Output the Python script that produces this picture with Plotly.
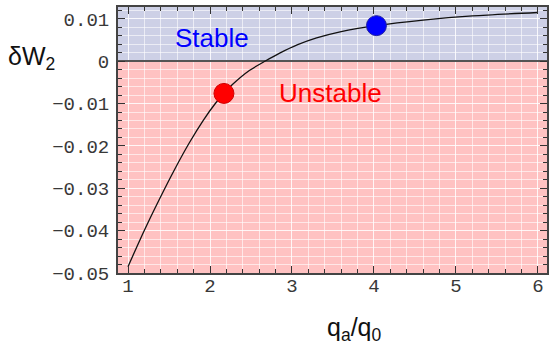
import plotly.graph_objects as go

# curve data
q_ratio = [1.0, 1.2, 1.38, 1.57, 1.75, 1.92, 2.06, 2.17, 2.28, 2.48, 2.68, 2.85, 3.07, 3.3, 3.6,
           4.03, 4.6, 5.2, 6.0]
delta_w2 = [-0.0485, -0.0399, -0.0327, -0.0255, -0.0192, -0.0139, -0.0101, -0.0076, -0.0054, -0.0022,
            0.0001, 0.0019, 0.0039, 0.0055, 0.0070, 0.0084, 0.0097, 0.0107, 0.0115]

# highlighted points
unstable_pt_x = [2.17]
unstable_pt_y = [-0.0076]
stable_pt_x = [4.03]
stable_pt_y = [0.0084]

x_range = [0.878, 6.11]
y_range = [-0.05, 0.0128]

fig = go.Figure()

fig.add_trace(go.Scatter(x=q_ratio, y=delta_w2, mode="lines",
                         line=dict(color="#111111", width=1.3, shape="spline", smoothing=0.8),
                         showlegend=False, hoverinfo="skip"))
fig.add_trace(go.Scatter(x=unstable_pt_x, y=unstable_pt_y, mode="markers",
                         marker=dict(size=20, color="#FF0000", line=dict(color="#D00000", width=1)),
                         showlegend=False))
fig.add_trace(go.Scatter(x=stable_pt_x, y=stable_pt_y, mode="markers",
                         marker=dict(size=20, color="#0000FF", line=dict(color="#2020A0", width=1)),
                         showlegend=False))

# background regions
fig.add_shape(type="rect", xref="x", yref="y", x0=x_range[0], x1=x_range[1], y0=0, y1=y_range[1],
              fillcolor="#CDD0E6", line=dict(width=0), layer="below")
fig.add_shape(type="rect", xref="x", yref="y", x0=x_range[0], x1=x_range[1], y0=y_range[0], y1=0,
              fillcolor="#FFC2C2", line=dict(width=0), layer="below")

tick_font = dict(family="Liberation Mono, DejaVu Sans Mono, monospace", size=19, color="#383838")

fig.update_xaxes(range=x_range, dtick=1, tick0=0, ticks="inside", ticklen=7, tickwidth=1,
                 tickcolor="#333333", showline=True, linecolor="#444444", linewidth=2,
                 mirror="ticks", showgrid=True, gridcolor="rgba(255,255,255,0.85)", gridwidth=1,
                 zeroline=False, tickfont=tick_font, ticklabelstandoff=-6, automargin=False,
                 minor=dict(dtick=0.2, ticks="inside", ticklen=4, tickcolor="#333333",
                            showgrid=True, gridcolor="rgba(255,255,255,0.6)", gridwidth=1))
fig.update_yaxes(range=y_range, dtick=0.01, tick0=0, ticks="inside", ticklen=7, tickwidth=1,
                 tickcolor="#333333", showline=True, linecolor="#444444", linewidth=2,
                 mirror="ticks", showgrid=True, gridcolor="rgba(255,255,255,0.85)", gridwidth=1,
                 zeroline=True, zerolinecolor="#555555", zerolinewidth=2,
                 tickfont=tick_font, ticklabelstandoff=3, automargin=False,
                 minor=dict(dtick=0.002, ticks="inside", ticklen=4, tickcolor="#333333",
                            showgrid=True, gridcolor="rgba(255,255,255,0.6)", gridwidth=1))

label_font = dict(family="Liberation Sans, Arial, sans-serif", size=26)
fig.add_annotation(x=2.03, y=0.0054, xref="x", yref="y", text="Stable", showarrow=False,
                   font=dict(color="#0000FF", **label_font))
fig.add_annotation(x=3.47, y=-0.0075, xref="x", yref="y", text="Unstable", showarrow=False,
                   font=dict(color="#FF0000", **label_font))

title_font = dict(family="Liberation Sans, Arial, sans-serif", size=25, color="#111111")
fig.add_annotation(x=-0.262, y=0.81, xref="paper", yref="paper", xanchor="left", yanchor="middle",
                   text="δW<sub>2</sub>", showarrow=False, font=title_font)
fig.add_annotation(x=0.552, y=-0.21, xref="paper", yref="paper", xanchor="center", yanchor="middle",
                   text="q<sub>a</sub>/q<sub>0</sub>", showarrow=False, font=title_font)

fig.update_layout(width=549, height=344, margin=dict(l=118, r=2, t=7, b=71, autoexpand=False),
                  paper_bgcolor="white", plot_bgcolor="rgba(0,0,0,0)", showlegend=False)

fig.write_html("out.html", config={"displayModeBar": False},
               post_script="document.body.style.margin='0';")
